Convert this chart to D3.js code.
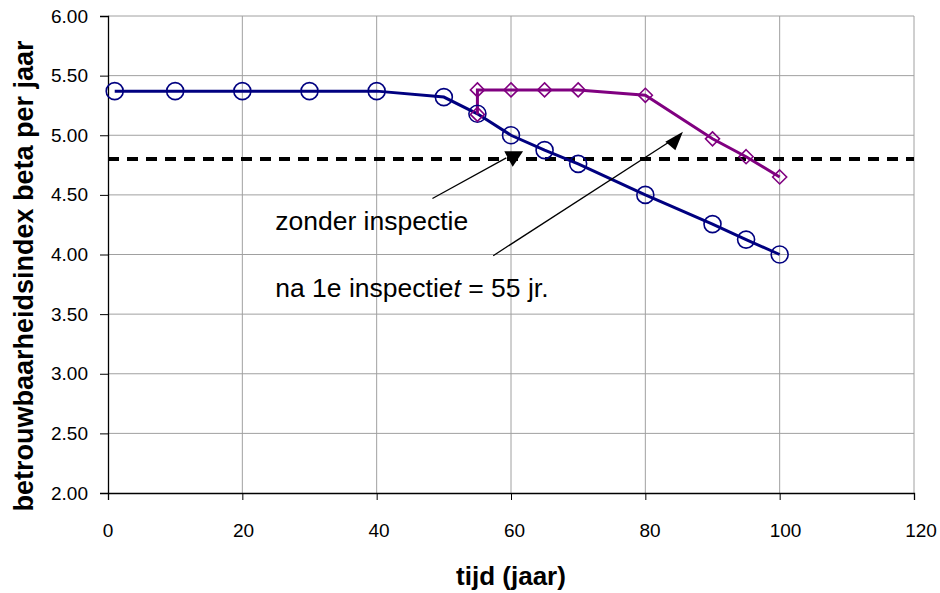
<!DOCTYPE html>
<html>
<head>
<meta charset="utf-8">
<script src="https://cdn.jsdelivr.net/npm/d3@7"></script>
<style>
  body { margin: 0; background: #fff; }
  svg { display: block; font-family: Arial, "Liberation Sans", sans-serif; }
</style>
</head>
<body>
<div id="canvas"></div>
<script>

// data
var tijdZonder = [1, 10, 20, 30, 40, 50, 55, 60, 65, 70, 80, 90, 95, 100];
var betaZonder = [5.37, 5.37, 5.37, 5.37, 5.37, 5.32, 5.18, 5.00, 4.875, 4.76, 4.50, 4.255, 4.125, 4.00];

var tijdNa = [55, 55, 60, 65, 70, 80, 90, 95, 100];
var betaNa = [5.175, 5.38, 5.38, 5.38, 5.38, 5.335, 4.97, 4.82, 4.65];

var betaDoel = 4.80;

var xTicks = [0, 20, 40, 60, 80, 100, 120];
var yTicks = [2.0, 2.5, 3.0, 3.5, 4.0, 4.5, 5.0, 5.5, 6.0];

// annotations (in data units)
var labelZonder = {x: 24.9, y: 4.205, text: "zonder inspectie"};
var labelNa = {x: 24.9, y: 3.647, text: "na 1e inspectie", ital: "t", rest: " = 55 jr."};
var pijl1 = {from: [48.3, 4.47], to: [59.3, 4.81], head: [[59.0, 4.865], [61.8, 4.865], [60.25, 4.735]]};
var pijl2 = {from: [57.35, 3.99], to: [84.0, 4.96], head: [[85.6, 5.03], [82.98, 4.945], [84.47, 4.875]]};

var width = 940;
var height = 593;
var margin = {top: 16, right: 26, bottom: 100, left: 108};

var svgContainer = d3.select("#canvas").append("svg")
	.attr("width", width)
	.attr("height", height);

var x = d3.scaleLinear().domain([0, 120]).range([margin.left, width - margin.right]);
var y = d3.scaleLinear().domain([2, 6]).range([height - margin.bottom, margin.top]);
// the tick labels in the original sit a bit wider apart than the ticks
var xLab = d3.scaleLinear().domain([0, 120]).range([margin.left, 921]);

// gridlines
svgContainer.append("g").selectAll("line.gx")
	.data(xTicks.slice(1))
	.enter().append("line")
	.attr("x1", d => x(d)).attr("x2", d => x(d))
	.attr("y1", y(2)).attr("y2", y(6))
	.attr("stroke", "#a0a0a0").attr("stroke-width", 1);

svgContainer.append("g").selectAll("line.gy")
	.data(yTicks.slice(1))
	.enter().append("line")
	.attr("x1", x(0)).attr("x2", x(120))
	.attr("y1", d => y(d)).attr("y2", d => y(d))
	.attr("stroke", "#a0a0a0").attr("stroke-width", 1);

// axes
var xAxis = svgContainer.append("g")
	.attr("transform", "translate(0," + y(2) + ")")
	.call(d3.axisBottom(x).tickValues(xTicks).tickSize(7).tickFormat(""));

var yAxis = svgContainer.append("g")
	.attr("transform", "translate(" + x(0) + ",0)")
	.call(d3.axisLeft(y).tickValues(yTicks).tickSize(8).tickPadding(12).tickFormat(d3.format(".2f")));

[xAxis, yAxis].forEach(function(a){
	a.select(".domain").attr("stroke", "#000").attr("stroke-width", 1.3);
	a.selectAll(".tick line").attr("stroke", "#000");
	a.selectAll(".tick text").attr("fill", "#000")
		.style("font-size", "19px")
		.style("font-family", "Arial, 'Liberation Sans', sans-serif");
});

svgContainer.append("g").selectAll("text")
	.data(xTicks)
	.enter().append("text")
	.attr("x", d => xLab(d))
	.attr("y", y(2) + 44)
	.attr("text-anchor", "middle")
	.style("font-size", "19px")
	.text(d => d3.format("d")(d));

// target line
svgContainer.append("line")
	.attr("x1", x(0)).attr("x2", x(120))
	.attr("y1", y(betaDoel)).attr("y2", y(betaDoel))
	.attr("stroke", "#000").attr("stroke-width", 4)
	.attr("stroke-dasharray", "11,8");

// series lines
var line = d3.line().x(d => x(d[0])).y(d => y(d[1]));

var zonder = d3.zip(tijdZonder, betaZonder);
var na = d3.zip(tijdNa, betaNa);

svgContainer.append("path")
	.datum(zonder)
	.attr("d", line)
	.attr("fill", "none").attr("stroke", "#000080").attr("stroke-width", 3);

svgContainer.append("path")
	.datum(na)
	.attr("d", line)
	.attr("fill", "none").attr("stroke", "#800080").attr("stroke-width", 3);

// markers
svgContainer.append("g").selectAll("circle")
	.data(zonder)
	.enter().append("circle")
	.attr("cx", d => x(d[0]))
	.attr("cy", d => y(d[1]))
	.attr("r", 8.5)
	.attr("fill", "none").attr("stroke", "#000080").attr("stroke-width", 1.6);

var ruit = d3.symbol().type(d3.symbolDiamond2).size(125);
svgContainer.append("g").selectAll("path")
	.data(na)
	.enter().append("path")
	.attr("d", ruit)
	.attr("transform", d => "translate(" + x(d[0]) + "," + y(d[1]) + ")")
	.attr("fill", "none").attr("stroke", "#800080").attr("stroke-width", 1.6);

// arrows
[pijl1, pijl2].forEach(function(p){
	svgContainer.append("line")
		.attr("x1", x(p.from[0])).attr("y1", y(p.from[1]))
		.attr("x2", x(p.to[0])).attr("y2", y(p.to[1]))
		.attr("stroke", "#000").attr("stroke-width", 1.3);
	svgContainer.append("polygon")
		.attr("points", p.head.map(h => x(h[0]) + "," + y(h[1])).join(" "))
		.attr("fill", "#000");
});

// annotation text
svgContainer.append("text")
	.attr("x", x(labelZonder.x)).attr("y", y(labelZonder.y))
	.style("font-size", "26.5px")
	.text(labelZonder.text);

var t2 = svgContainer.append("text")
	.attr("x", x(labelNa.x)).attr("y", y(labelNa.y))
	.style("font-size", "26.5px");
t2.append("tspan").text(labelNa.text);
t2.append("tspan").style("font-style", "italic").text(labelNa.ital);
t2.append("tspan").text(labelNa.rest);

// axis titles
svgContainer.append("text")
	.attr("x", (x(0) + x(120)) / 2)
	.attr("y", 585)
	.attr("text-anchor", "middle")
	.style("font-size", "26px").style("font-weight", "bold")
	.text("tijd (jaar)");

svgContainer.append("text")
	.attr("transform", "translate(33,276) rotate(-90)")
	.attr("text-anchor", "middle")
	.style("font-size", "27px").style("font-weight", "bold")
	.text("betrouwbaarheidsindex beta per jaar");

</script>
</body>
</html>
